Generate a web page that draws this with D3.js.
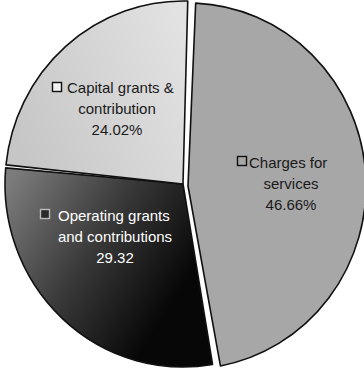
<!DOCTYPE html>
<html>
<head>
<meta charset="utf-8">
<script src="https://cdn.jsdelivr.net/npm/d3@7/dist/d3.min.js"></script>
<style>
  html, body { margin: 0; padding: 0; background: #ffffff; }
  svg { display: block; font-family: "Liberation Sans", Arial, sans-serif; }
</style>
</head>
<body>
<svg id="chart" width="364" height="372"></svg>
<script>
// Revenue sources, in drawing order (clockwise from the top)
const categories = ["Charges for services", "Operating grants and contributions", "Capital grants & contribution"];
const shares = [46.66, 29.32, 24.02];
const valueLabels = ["46.66%", "29.32", "24.02%"];
const labelLines = [
  ["Charges for", "services"],
  ["Operating grants", "and contributions"],
  ["Capital grants &", "contribution"]
];

const W = 364, H = 372;
const cx = 183, cy = 184;
const ry = 183, rx = 178;           // slightly oval pie
const sx = rx / ry;

const svg = d3.select("#chart");
const defs = svg.append("defs");

const gOp = defs.append("linearGradient").attr("id", "gOp")
  .attr("x1", "0").attr("y1", "0.1").attr("x2", "1").attr("y2", "0.7");
gOp.append("stop").attr("offset", "0").attr("stop-color", "#7c7c7c");
gOp.append("stop").attr("offset", "0.45").attr("stop-color", "#383838");
gOp.append("stop").attr("offset", "0.85").attr("stop-color", "#070707");

const gCap = defs.append("linearGradient").attr("id", "gCap")
  .attr("x1", "0").attr("y1", "0.6").attr("x2", "1").attr("y2", "0.2");
gCap.append("stop").attr("offset", "0").attr("stop-color", "#c6c6c6");
gCap.append("stop").attr("offset", "1").attr("stop-color", "#e2e2e2");

const fills = ["#a7a7a7", "url(#gOp)", "url(#gCap)"];
const boxFills = ["#a7a7a7", "#2a2a2a", "#f2f2f2"];
const textColors = ["#1a1a1a", "#ffffff", "#1a1a1a"];
// the first slice is pulled out a little
const offsets = [[5, 2], [0, 0], [0, 0]];

const pie = d3.pie().sort(null).value(d => d)
  .startAngle(2 * Math.PI / 180)
  .endAngle(2 * Math.PI / 180 + 2 * Math.PI);

const arc = d3.arc().innerRadius(0).outerRadius(ry)
  .padAngle(3 / ry).padRadius(ry);

const arcs = pie(shares);

const g = svg.append("g").attr("transform", `translate(${cx},${cy})`);

g.selectAll("path.slice")
  .data(arcs)
  .join("path")
  .attr("class", "slice")
  .attr("d", arc)
  .attr("transform", (d, i) => `translate(${offsets[i][0]},${offsets[i][1]}) scale(${sx},1)`)
  .attr("fill", (d, i) => fills[i])
  .attr("stroke", "#111")
  .attr("stroke-width", 1.6)
  .attr("stroke-linejoin", "round")
  .attr("vector-effect", "non-scaling-stroke");

// label blocks: first line starts after a small swatch, the rest are centred
const labelLayout = [
  { box: [237, 156], start: 249, base: 168, mid: 291 },
  { box: [40, 209], start: 58, base: 221, mid: 115 },
  { box: [52, 82], start: 67, base: 93, mid: 117 }
];
const lineGap = 21;

const labels = svg.append("g").attr("font-size", 15);

categories.forEach((c, i) => {
  const L = labelLayout[i];
  labels.append("rect")
    .attr("x", L.box[0] + 0.5).attr("y", L.box[1] + 0.5)
    .attr("width", 9).attr("height", 9)
    .attr("fill", boxFills[i])
    .attr("stroke", i === 1 ? "#bbbbbb" : "#111")
    .attr("stroke-width", 1.4);
  labels.append("text")
    .attr("x", L.start).attr("y", L.base)
    .attr("fill", textColors[i])
    .text(labelLines[i][0]);
  labels.append("text")
    .attr("x", L.mid).attr("y", L.base + lineGap)
    .attr("text-anchor", "middle")
    .attr("fill", textColors[i])
    .text(labelLines[i][1]);
  labels.append("text")
    .attr("x", L.mid).attr("y", L.base + 2 * lineGap)
    .attr("text-anchor", "middle")
    .attr("fill", textColors[i])
    .text(valueLabels[i]);
});
</script>
</body>
</html>
